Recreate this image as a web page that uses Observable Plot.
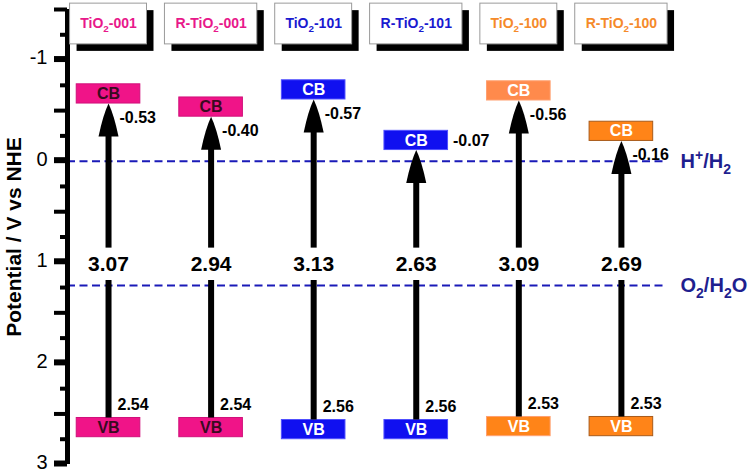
<!DOCTYPE html>
<html><head><meta charset="utf-8">
<script src="https://cdn.jsdelivr.net/npm/d3@7"></script>
<script src="https://cdn.jsdelivr.net/npm/@observablehq/plot@0.6"></script>
<style>
body{margin:0;background:#fff;}
svg{font-family:"Liberation Sans",Arial,sans-serif;}
</style>
</head><body><div id="chart"></div>
<script>
// ---- data ----
const samples = ["TiO2-001", "R-TiO2-001", "TiO2-101", "R-TiO2-101", "TiO2-100", "R-TiO2-100"];
const cbValues = [-0.53, -0.40, -0.57, -0.07, -0.56, -0.16];
const vbValues = [2.54, 2.54, 2.56, 2.56, 2.53, 2.53];
const gapValues = [3.07, 2.94, 3.13, 2.63, 3.09, 2.69];
const redoxLevels = [0, 1.23];
const redoxLabels = ["H+/H2", "O2/H2O"];
const yTickLabels = [-1, 0, 1, 2, 3];

// ---- styles ----
const headColor = ["#e8188a", "#e8188a", "#1a1ad0", "#1a1ad0", "#f58a2a", "#f58a2a"];
const cbFill = ["#f01488", "#f01488", "#1010f0", "#1010f0", "#ff8a4c", "#ff8418"];
const vbFill = ["#f01488", "#f01488", "#1010f0", "#1010f0", "#ff8418", "#ff8418"];
const boxStroke = ["#d0107a", "#d0107a", "#5050ff", "#5050ff", "#ffa070", "#a85a1a"];
const boxText = ["#3a0a20", "#3a0a20", "#ffffff", "#ffffff", "#ffffff", "#ffffff"];
const redoxColor = "#1f1f8f";
const dashColor = "#1a1ab8";

const rows = samples.map((name, i) => ({name, i, cb: cbValues[i], vb: vbValues[i], gap: gapValues[i]}));
const xMin = -0.40, xMax = 5.43;
const boxHalf = 0.31;           // half width of CB/VB boxes (x units)
const headHalf = d => d.name.startsWith("R-") ? 0.45 : 0.375;
const gapY = 1.02;              // vertical position of band gap labels
const tip = d => d.cb - 0.04;   // arrow tip just under CB box

const arrowHead = {
  draw(context) {
    const w = 10, h = 33;
    context.moveTo(0, 0);
    context.quadraticCurveTo(-w * 0.55, h * 0.35, -w, h);
    context.lineTo(w, h);
    context.quadraticCurveTo(w * 0.55, h * 0.35, 0, 0);
    context.closePath();
  }
};

const majorTicks = d3.range(-1.5, 3.001, 0.5);
const minorTicks = d3.range(-1.25, 3, 0.5);

const chart = Plot.plot({
  width: 750, height: 473,
  marginLeft: 67, marginRight: 85, marginTop: 9, marginBottom: 9,
  x: {domain: [xMin, xMax], axis: null},
  y: {domain: [-1.5, 3], reverse: true, label: null},
  marks: [
    // redox dashed levels
    Plot.ruleY(redoxLevels, {x1: xMin, x2: xMax, stroke: dashColor, strokeWidth: 2, strokeDasharray: "8,4.5"}),
    // axis
    Plot.axisY({ticks: majorTicks, tickSize: 13, strokeWidth: 4, tickFormat: () => "", label: null}),
    Plot.axisY({ticks: minorTicks, tickSize: 7, strokeWidth: 4, tickFormat: () => "", label: null}),
    Plot.axisY({ticks: yTickLabels, tickSize: 13, tickPadding: 7, strokeWidth: 4, fontSize: 20, dy: -2, tickFormat: d => String(d), label: null}),
    Plot.ruleX([xMin], {y1: -1.5, y2: 3, strokeWidth: 5, stroke: "black"}),
    Plot.text(["Potential / V vs NHE"], {text: d => d, frameAnchor: "left", textAnchor: "middle", dx: -53, rotate: -90, fontSize: 21, fontWeight: "bold"}),
    // header boxes
    Plot.rect(rows, {x1: d => d.i - headHalf(d), x2: d => d.i + headHalf(d), y1: -1.558, y2: -1.155, fill: "black", dx: 7, dy: 7}),
    Plot.rect(rows, {x1: d => d.i - headHalf(d), x2: d => d.i + headHalf(d), y1: -1.558, y2: -1.155, fill: "white", stroke: "#9a9a9a", strokeWidth: 1}),
    Plot.text(rows, {x: "i", y: -1.36, text: "name", fill: d => headColor[d.i], fontSize: 14, fontWeight: "bold"}),
    // CB and VB boxes
    Plot.rect(rows, {x1: d => d.i - boxHalf, x2: d => d.i + boxHalf, y1: d => d.cb - 0.23, y2: d => d.cb - 0.04, fill: d => cbFill[d.i], stroke: d => boxStroke[d.i], strokeWidth: 1}),
    Plot.rect(rows, {x1: d => d.i - boxHalf, x2: d => d.i + boxHalf, y1: d => d.vb, y2: d => d.vb + 0.19, fill: d => vbFill[d.i], stroke: d => boxStroke[d.i], strokeWidth: 1}),
    Plot.text(rows, {x: "i", y: d => d.cb - 0.135, text: () => "CB", fill: d => boxText[d.i], fontSize: 16, fontWeight: "bold"}),
    Plot.text(rows, {x: "i", y: d => d.vb + 0.095, text: () => "VB", fill: d => boxText[d.i], fontSize: 16, fontWeight: "bold"}),
    // arrows
    Plot.ruleX(rows, {x: "i", y1: d => tip(d) + 0.3, y2: gapY - 0.16, stroke: "black", strokeWidth: 6}),
    Plot.ruleX(rows, {x: "i", y1: gapY + 0.16, y2: "vb", stroke: "black", strokeWidth: 6}),
    Plot.dot(rows, {x: "i", y: tip, symbol: arrowHead, r: 5, fill: "black", stroke: "none"}),
    // labels
    Plot.text(rows, {x: "i", y: gapY, text: d => d.gap.toFixed(2), fontSize: 21, fontWeight: "bold", fill: "black"}),
    Plot.text(rows.filter(d => d.cb <= -0.1), {x: "i", y: d => d.cb + 0.1, text: d => d.cb.toFixed(2), dx: 11, textAnchor: "start", fontSize: 16, fontWeight: "bold", fill: "black"}),
    Plot.text(rows.filter(d => d.cb > -0.1), {x: d => d.i + boxHalf, y: d => d.cb - 0.135, text: d => d.cb.toFixed(2), dx: 5, textAnchor: "start", fontSize: 16, fontWeight: "bold", fill: "black"}),
    Plot.text(rows, {x: "i", y: d => d.vb - 0.13, text: d => d.vb.toFixed(2), dx: 9, textAnchor: "start", fontSize: 16, fontWeight: "bold", fill: "black"}),
    Plot.text(redoxLevels.map((v, k) => ({v, label: redoxLabels[k]})), {x: xMax, y: "v", text: "label", dx: 15, textAnchor: "start", fontSize: 20, fontWeight: "bold", fill: redoxColor})
  ]
});
document.getElementById("chart").appendChild(chart);

// chemical sub/superscripts
function chemify(svg) {
  d3.select(svg).selectAll("text").each(function() {
    const s = this.textContent;
    if (!/[OH][2+]/.test(s)) return;
    const fs = parseFloat(getComputedStyle(this).fontSize) || 14;
    while (this.firstChild) this.removeChild(this.firstChild);
    let shift = 0;
    for (let k = 0; k < s.length; k++) {
      const c = s[k], prev = s[k - 1];
      let kind = "n";
      if (c === "2" && (prev === "O" || prev === "H")) kind = "sub";
      else if (c === "+" && prev === "H") kind = "sup";
      const target = kind === "sub" ? 0.3 * fs : kind === "sup" ? -0.38 * fs : 0;
      const t = document.createElementNS("http://www.w3.org/2000/svg", "tspan");
      t.textContent = c;
      if (target !== shift) { t.setAttribute("dy", target - shift); shift = target; }
      if (kind !== "n") t.setAttribute("font-size", fs * 0.7);
      this.appendChild(t);
    }
  });
}
chemify(chart);
</script>
</body></html>
